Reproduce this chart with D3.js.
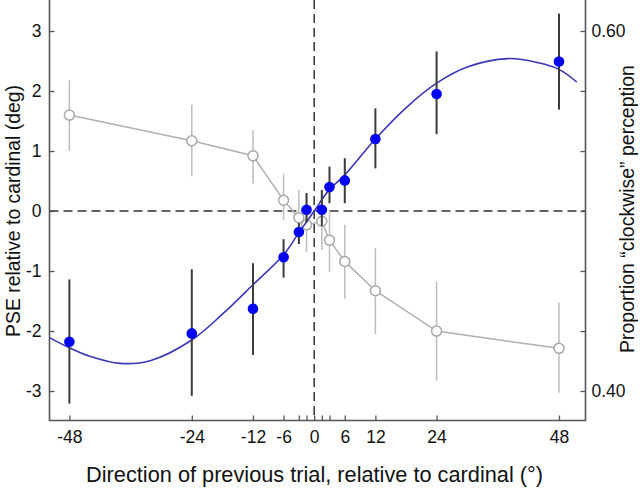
<!DOCTYPE html>
<html>
<head>
<meta charset="utf-8">
<script src="https://cdn.jsdelivr.net/npm/d3@7"></script>
<style>
  html, body { margin: 0; padding: 0; background: #fff; }
  svg { display: block; font-family: "Liberation Sans", Arial, Helvetica, sans-serif; }
</style>
</head>
<body>
<svg id="chart" width="640" height="488"></svg>
<script>
// ---- Data ----
const directions = [-48, -24, -12, -6, -3, -1.5, 1.5, 3, 6, 12, 24, 48];

// PSE relative to cardinal (deg) – left axis, blue filled points
const pseValues = [-2.18, -2.04, -1.63, -0.77, -0.35, 0.02, 0.02, 0.40, 0.51, 1.20, 1.95, 2.49];
const pseLow    = [-3.21, -3.08, -2.40, -1.11, -0.55, -0.20, -0.25, 0.13, 0.13, 0.71, 1.28, 1.69];
const pseHigh   = [-1.14, -0.97, -0.87, -0.47, -0.20, 0.30, 0.35, 0.74, 0.88, 1.71, 2.66, 3.29];

// Proportion "clockwise" perception – right axis, open gray points
const propValues = [0.5533, 0.5390, 0.5307, 0.5060, 0.4963, 0.4923, 0.4943, 0.4837, 0.4720, 0.4557, 0.4333, 0.4237];
const propLow    = [0.5333, 0.5193, 0.5153, 0.4950, 0.4817, 0.4773, 0.4783, 0.4663, 0.4513, 0.4317, 0.4057, 0.3990];
const propHigh   = [0.5727, 0.5590, 0.5450, 0.5207, 0.5117, 0.5100, 0.5117, 0.5007, 0.4923, 0.4793, 0.4607, 0.4490];

// Fitted curve (deg, PSE)
const fitX = [-51.9, -48, -44, -38, -32, -24, -18, -12, -6, -3, 0, 3, 6, 12, 18, 24, 30, 38, 44, 48, 51.5];
const fitY = [-2.11, -2.28, -2.42, -2.54, -2.49, -2.15, -1.72, -1.23, -0.73, -0.36, 0.0, 0.36, 0.60, 1.20, 1.72, 2.13, 2.40, 2.54, 2.47, 2.36, 2.15];

// Ticks
const xTickLabels = [-48, -24, -12, -6, 0, 6, 12, 24, 48];
const xMinorTicks = [-3, -1.5, 1.5, 3];
const yLeftTicks  = [-3, -2, -1, 0, 1, 2, 3];
const yRightLabeled = [0.40, 0.60];
const yRightMinor   = [0.4333, 0.4667, 0.5, 0.5333, 0.5667];

// ---- Layout ----
const svg = d3.select("#chart");
const plotLeft = 49.5, plotRight = 585.5, plotBottom = 420.5;

const x = d3.scaleLinear().domain([-51.9, 53.2]).range([plotLeft, plotRight]);
const yL = d3.scaleLinear().domain([-3.5, 3.5]).range([421, 1]);
const yR = d3.scaleLinear().domain([0.5 - 3.5 / 30, 0.5 + 3.5 / 30]).range([421, 1]);

const axisColor = "#555";
const font = 17.5;
const hyphenFmt = d => String(d);

// Dashed reference lines
svg.append("line")
  .attr("x1", plotLeft).attr("x2", plotRight)
  .attr("y1", yL(0)).attr("y2", yL(0))
  .attr("stroke", "#333").attr("stroke-width", 1.5)
  .attr("stroke-dasharray", "9,5");
svg.append("line")
  .attr("x1", x(0)).attr("x2", x(0))
  .attr("y1", 0).attr("y2", plotBottom)
  .attr("stroke", "#333").attr("stroke-width", 1.5)
  .attr("stroke-dasharray", "9,5");

// Axes
function styleAxis(g) {
  g.select(".domain").remove();
  g.selectAll(".tick line").attr("stroke", axisColor).attr("stroke-width", 1.3);
  g.selectAll(".tick text").attr("fill", "#111").attr("font-size", font)
    .attr("font-family", "'Liberation Sans', Arial, sans-serif");
}

// Bottom axis (ticks pointing inward)
const gx = svg.append("g").attr("transform", `translate(0,${plotBottom})`)
  .call(d3.axisBottom(x).tickValues(xTickLabels).tickSize(-5).tickFormat(hyphenFmt));
styleAxis(gx);
gx.selectAll(".tick text").attr("dy", "0.71em").attr("y", 10);
svg.append("g").attr("transform", `translate(0,${plotBottom})`)
  .call(d3.axisBottom(x).tickValues(xMinorTicks).tickSize(-5).tickFormat(""))
  .call(styleAxis);

// Left axis
const gyl = svg.append("g").attr("transform", `translate(${plotLeft},0)`)
  .call(d3.axisLeft(yL).tickValues(yLeftTicks).tickSize(-5).tickFormat(hyphenFmt));
styleAxis(gyl);
gyl.selectAll(".tick text").attr("x", -8);

// Right axis
const gyr = svg.append("g").attr("transform", `translate(${plotRight},0)`)
  .call(d3.axisRight(yR).tickValues(yRightLabeled).tickSize(-5).tickFormat(d3.format(".2f")));
styleAxis(gyr);
gyr.selectAll(".tick text").attr("x", 6);
svg.append("g").attr("transform", `translate(${plotRight},0)`)
  .call(d3.axisRight(yR).tickValues(yRightMinor).tickSize(-5).tickFormat(""))
  .call(styleAxis);

// Axis lines
svg.append("path")
  .attr("d", `M${plotLeft},0 V${plotBottom} H${plotRight} V0`)
  .attr("fill", "none").attr("stroke", axisColor).attr("stroke-width", 1.6);

// Gray series (right axis)
const gray = directions.map((d, i) => ({ x: d, v: propValues[i], lo: propLow[i], hi: propHigh[i] }));
svg.append("g").selectAll("line").data(gray).join("line")
  .attr("x1", d => x(d.x)).attr("x2", d => x(d.x))
  .attr("y1", d => yR(d.lo)).attr("y2", d => yR(d.hi))
  .attr("stroke", "#bdbdbd").attr("stroke-width", 1.5);
svg.append("path").datum(gray)
  .attr("d", d3.line().x(d => x(d.x)).y(d => yR(d.v)))
  .attr("fill", "none").attr("stroke", "#b0b0b0").attr("stroke-width", 1.5);
svg.append("g").selectAll("circle").data(gray).join("circle")
  .attr("cx", d => x(d.x)).attr("cy", d => yR(d.v)).attr("r", 5)
  .attr("fill", "#fff").attr("stroke", "#a8a8a8").attr("stroke-width", 1.5);

// Fitted curve
const fit = fitX.map((d, i) => ({ x: d, y: fitY[i] }));
svg.append("path").datum(fit)
  .attr("d", d3.line().x(d => x(d.x)).y(d => yL(d.y)).curve(d3.curveCatmullRom))
  .attr("fill", "none").attr("stroke", "#3a36b8").attr("stroke-width", 1.6);

// Blue series (left axis)
const blue = directions.map((d, i) => ({ x: d, v: pseValues[i], lo: pseLow[i], hi: pseHigh[i] }));
svg.append("g").selectAll("line").data(blue).join("line")
  .attr("x1", d => x(d.x)).attr("x2", d => x(d.x))
  .attr("y1", d => yL(d.lo)).attr("y2", d => yL(d.hi))
  .attr("stroke", "#3c3c3c").attr("stroke-width", 2);
svg.append("g").selectAll("circle").data(blue).join("circle")
  .attr("cx", d => x(d.x)).attr("cy", d => yL(d.v)).attr("r", 5.3)
  .attr("fill", "#0000f5");

// Axis titles, sized to span the same extent as in the reference
function fitWidth(sel, base, target) {
  const len = sel.node().getComputedTextLength();
  if (len > 0) sel.attr("font-size", base * target / len);
}
const tLeft = svg.append("text")
  .attr("transform", `translate(20,211) rotate(-90)`)
  .attr("text-anchor", "middle").attr("font-size", 19).attr("fill", "#111")
  .text("PSE relative to cardinal (deg)");
fitWidth(tLeft, 19, 252);
const tRight = svg.append("text")
  .attr("transform", `translate(634,209) rotate(-90)`)
  .attr("text-anchor", "middle").attr("font-size", 19).attr("fill", "#111")
  .text("Proportion \u201cclockwise\u201d perception");
fitWidth(tRight, 19, 288);
const tBottom = svg.append("text")
  .attr("x", 314.5).attr("y", 482)
  .attr("text-anchor", "middle").attr("font-size", 21).attr("fill", "#111")
  .text("Direction of previous trial, relative to cardinal (\u00b0)");
fitWidth(tBottom, 21, 457);
</script>
</body>
</html>
